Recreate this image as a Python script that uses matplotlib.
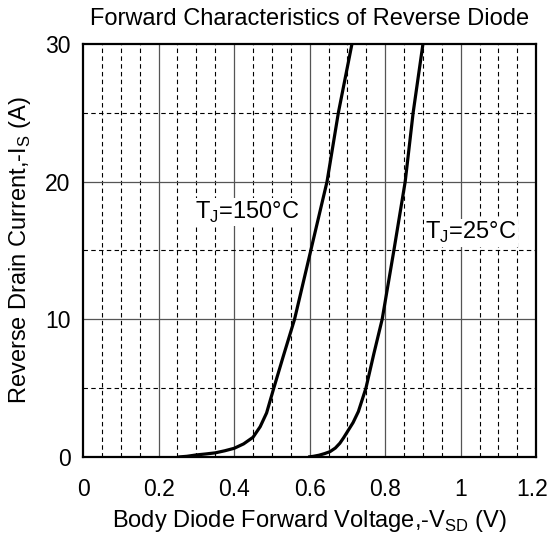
import matplotlib.pyplot as plt
import matplotlib.transforms as mtransforms

plt.rcParams['font.family'] = ['Liberation Sans', 'DejaVu Sans']
plt.rcParams['mathtext.fontset'] = 'custom'
plt.rcParams['mathtext.rm'] = 'Liberation Sans'

# curve values
v_150 = [0.252, 0.275, 0.30, 0.325, 0.35, 0.375, 0.40, 0.425, 0.45, 0.469, 0.486,
         0.505, 0.53, 0.56, 0.603, 0.646, 0.676, 0.712]
i_150 = [0.0, 0.05, 0.15, 0.22, 0.3, 0.45, 0.63, 0.95, 1.43, 2.2, 3.2,
         5.0, 7.3, 10.0, 15.0, 20.0, 25.0, 30.0]
v_25 = [0.596, 0.61, 0.625, 0.64, 0.654, 0.668, 0.68, 0.69, 0.70, 0.715, 0.729, 0.749,
        0.77, 0.792, 0.823, 0.853, 0.874, 0.90]
i_25 = [0.0, 0.05, 0.13, 0.25, 0.39, 0.65, 1.0, 1.4, 1.84, 2.5, 3.3, 5.0,
        7.5, 10.0, 15.0, 20.0, 25.0, 30.0]

x_major = [0, 0.2, 0.4, 0.6, 0.8, 1.0, 1.2]
x_labels = ["0", "0.2", "0.4", "0.6", "0.8", "1", "1.2"]
x_minor = [0.05, 0.1, 0.15, 0.25, 0.3, 0.35, 0.45, 0.5, 0.55, 0.65, 0.7, 0.75,
           0.85, 0.9, 0.95, 1.05, 1.1, 1.15]
y_major = [0, 10, 20, 30]
y_minor = [5, 15, 25]

fig = plt.figure(figsize=(5.5, 5.36), dpi=100)
ax = fig.add_axes([0.151, 0.1474, 0.824, 0.7706])

for x in x_major[1:-1]:
    ax.axvline(x, color="#555555", lw=0.9, zorder=1)
for x in x_minor:
    ax.axvline(x, color="black", lw=0.8, ls=(0, (4, 3)), zorder=1)
for y in y_major[1:-1]:
    ax.axhline(y, color="#555555", lw=0.9, zorder=1)
for y in y_minor:
    ax.axhline(y, color="black", lw=0.8, ls=(0, (4, 3)), zorder=1)

ax.plot(v_150, i_150, color="black", lw=2.3, zorder=3, solid_capstyle="butt")
ax.plot(v_25, i_25, color="black", lw=2.3, zorder=3, solid_capstyle="butt")

box = dict(facecolor="white", edgecolor="none", pad=1)
ax.text(0.297, 17.8, "T$_\\mathregular{J}$=150°C", fontsize=17, ha="left",
        va="center", bbox=box, zorder=2)
ax.text(0.906, 16.3, "T$_\\mathregular{J}$=25°C", fontsize=17, ha="left",
        va="center", bbox=box, zorder=2)

ax.set_xlim(0, 1.2)
ax.set_ylim(0, 30)
ax.set_xticks(x_major)
ax.set_xticklabels(x_labels)
ax.set_yticks(y_major)
ax.tick_params(axis="x", length=0, labelsize=16.5, pad=15)
ax.tick_params(axis="y", length=0, labelsize=16.5, pad=9)
for s in ax.spines.values():
    s.set_linewidth(1.6)

# nudge the last x tick label so it stays inside the figure
last = ax.get_xticklabels()[-1]
last.set_transform(last.get_transform() +
                   mtransforms.ScaledTranslation(-4 / 100, 0, fig.dpi_scale_trans))

ax.set_title("Forward Characteristics of Reverse Diode", fontsize=17, pad=14)
ax.set_xlabel("Body Diode Forward Voltage,-V$_\\mathregular{SD}$ (V)", fontsize=17, labelpad=5)
ax.set_ylabel("Reverse Drain Current,-I$_\\mathregular{S}$ (A)", fontsize=17, labelpad=9)

fig.savefig("out.png", dpi=100)
